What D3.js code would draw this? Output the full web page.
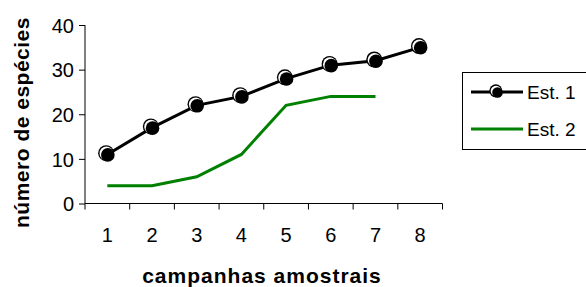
<!DOCTYPE html>
<html>
<head>
<meta charset="utf-8">
<script src="https://cdn.jsdelivr.net/npm/d3@7"></script>
<style>
body{margin:0;background:#fff}
text{font-family:"Liberation Sans",Arial,sans-serif;fill:#000}
</style>
</head>
<body>
<script>
var campanhas=["1","2","3","4","5","6","7","8"]
var est1=[11,17,22,24,28,31,32,35]
var est2=[4,4,6,11,22,24,24]
var yTicks=[0,10,20,30,40]
var series=["Est. 1","Est. 2"]

var screen={width:586,height:287}

var svg=d3.select("body").append("svg")
  .attr('width',screen.width)
  .attr('height',screen.height)

//scales
var xScale=d3.scaleBand()
  .domain(campanhas)
  .range([85,442.5])
var yScale=d3.scaleLinear()
  .domain([0,40])
  .range([203.5,25])

var cx=function(i){return xScale(campanhas[i])+xScale.bandwidth()/2}

// axes
var yAxis=d3.axisLeft(yScale).tickValues(yTicks).tickSize(6).tickPadding(5)
var gy=svg.append("g").attr('transform','translate(85,0)').call(yAxis)
gy.select(".domain").attr('stroke','#000').attr('d','M0,25V203.5')
gy.selectAll("text").style('font-size','20px').attr('dy','0.36em')

var xAxis=d3.axisBottom(xScale).tickValues([]).tickSize(0)
var gx=svg.append("g").attr('transform','translate(0,203.5)').call(xAxis)
gx.select(".domain").attr('stroke','#000').attr('d','M85,0H442.5')
// boundary tick marks between categories
var bounds=campanhas.map(function(c){return xScale(c)}).concat([xScale.range()[1]])
gx.selectAll("line.b").data(bounds).enter().append("line")
  .attr('class','b')
  .attr('x1',function(d){return d}).attr('x2',function(d){return d})
  .attr('y1',0).attr('y2',6)
  .attr('stroke','#000')
gx.selectAll("text.lab").data(campanhas).enter().append("text")
  .attr('class','lab')
  .attr('x',function(d){return xScale(d)+xScale.bandwidth()/2})
  .attr('y',38.5)
  .attr('text-anchor','middle')
  .style('font-size','20px')
  .text(function(d){return d})

// titles
svg.append("text")
  .attr('x',262).attr('y',283)
  .attr('text-anchor','middle')
  .style('font-size','21px').style('font-weight','bold')
  .style('letter-spacing','1px')
  .text("campanhas amostrais")
svg.append("text")
  .attr('transform','translate(29,122.5) rotate(-90)')
  .attr('text-anchor','middle')
  .style('font-size','21px').style('font-weight','bold')
  .style('letter-spacing','0.5px')
  .text("número de espécies")

// lines
var line=d3.line()
  .x(function(d,i){return cx(i)})
  .y(function(d){return yScale(d)})

svg.append("path").datum(est2)
  .attr('d',line)
  .attr('fill','none').attr('stroke','#008000').attr('stroke-width',3)

svg.append("path").datum(est1)
  .attr('d',line)
  .attr('fill','none').attr('stroke','#000').attr('stroke-width',3)

var marker=function(g,x,y,r){
  g.append("circle").attr('cx',x-1.2).attr('cy',y-1.2).attr('r',r).attr('fill','#000')
  g.append("circle").attr('cx',x-1).attr('cy',y-1).attr('r',r-1.2).attr('fill','#fff')
  g.append("circle").attr('cx',x+0.5).attr('cy',y+0.5).attr('r',r-1.2).attr('fill','#000')
}
var mk=svg.append("g")
est1.forEach(function(d,i){marker(mk,cx(i),yScale(d),8)})

// legend
var lg=svg.append("g")
lg.append("rect").attr('x',462.5).attr('y',72.5).attr('width',130).attr('height',77)
  .attr('fill','#fff').attr('stroke','#000').attr('stroke-width',1)
lg.append("line").attr('x1',471).attr('x2',523).attr('y1',92).attr('y2',92)
  .attr('stroke','#000').attr('stroke-width',3)
marker(lg,497,92,6.5)
lg.append("line").attr('x1',471).attr('x2',523).attr('y1',129).attr('y2',129)
  .attr('stroke','#008000').attr('stroke-width',3)
lg.selectAll("text.leg").data(series).enter().append("text")
  .attr('class','leg')
  .attr('x',527)
  .attr('y',function(d,i){return 99+i*37})
  .style('font-size','19px')
  .text(function(d){return d})
</script>
</body>
</html>
